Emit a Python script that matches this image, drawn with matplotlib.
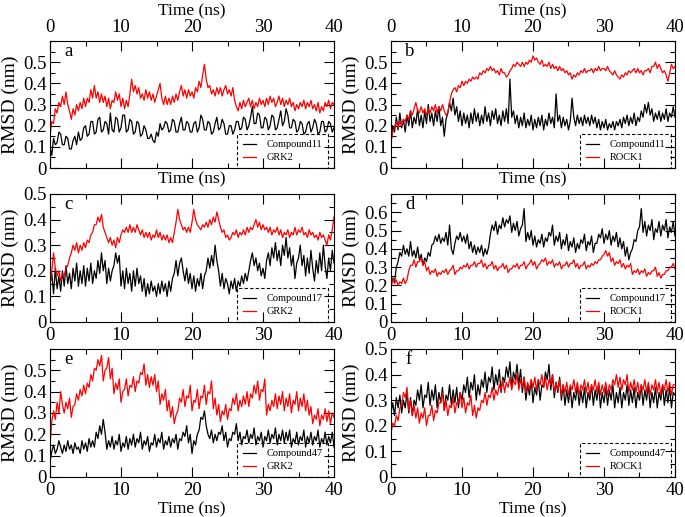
import numpy as np
import matplotlib
matplotlib.use('Agg')
import matplotlib.pyplot as plt
from matplotlib.ticker import MultipleLocator, FuncFormatter

plt.rcParams['font.family'] = ['Liberation Serif', 'DejaVu Serif']

# RMSD (nm), every 0.25 ns from 0 to 40 ns
a_compound11 = [0.10, 0.06, 0.14, 0.11, 0.12, 0.17, 0.16, 0.11, 0.11, 0.15, 0.14, 0.09, 0.09, 0.13, 0.15, 0.11,
                0.17, 0.13, 0.14, 0.19, 0.20, 0.15, 0.16, 0.22, 0.22, 0.16, 0.17, 0.23, 0.24, 0.17, 0.18, 0.22,
                0.21, 0.16, 0.26, 0.18, 0.17, 0.24, 0.23, 0.17, 0.19, 0.25, 0.25, 0.17, 0.18, 0.23, 0.22, 0.16,
                0.17, 0.22, 0.21, 0.15, 0.16, 0.20, 0.18, 0.14, 0.14, 0.16, 0.13, 0.12, 0.17, 0.15, 0.21, 0.18,
                0.19, 0.22, 0.21, 0.17, 0.18, 0.23, 0.22, 0.17, 0.17, 0.21, 0.24, 0.18, 0.18, 0.22, 0.21, 0.17,
                0.17, 0.21, 0.22, 0.17, 0.19, 0.25, 0.23, 0.18, 0.18, 0.22, 0.21, 0.16, 0.17, 0.21, 0.24, 0.18,
                0.19, 0.23, 0.21, 0.16, 0.16, 0.20, 0.20, 0.16, 0.18, 0.22, 0.22, 0.18, 0.19, 0.24, 0.23, 0.18,
                0.20, 0.24, 0.29, 0.21, 0.21, 0.26, 0.25, 0.19, 0.19, 0.24, 0.23, 0.18, 0.20, 0.25, 0.24, 0.18,
                0.19, 0.23, 0.27, 0.20, 0.22, 0.28, 0.25, 0.19, 0.19, 0.23, 0.22, 0.17, 0.18, 0.22, 0.21, 0.16,
                0.17, 0.21, 0.22, 0.17, 0.19, 0.23, 0.21, 0.16, 0.17, 0.22, 0.22, 0.17, 0.18, 0.22, 0.21, 0.17,
                0.19]
a_grk2 = [0.15, 0.22, 0.21, 0.28, 0.26, 0.31, 0.29, 0.34, 0.30, 0.36, 0.30, 0.27, 0.23, 0.28, 0.25, 0.30,
          0.27, 0.31, 0.28, 0.33, 0.29, 0.33, 0.31, 0.37, 0.33, 0.39, 0.33, 0.36, 0.31, 0.35, 0.31, 0.34,
          0.29, 0.33, 0.28, 0.32, 0.31, 0.36, 0.32, 0.35, 0.29, 0.33, 0.28, 0.32, 0.29, 0.35, 0.42, 0.36,
          0.39, 0.35, 0.38, 0.33, 0.35, 0.32, 0.37, 0.33, 0.36, 0.32, 0.35, 0.31, 0.34, 0.37, 0.40, 0.33,
          0.30, 0.34, 0.30, 0.33, 0.30, 0.34, 0.31, 0.35, 0.32, 0.36, 0.39, 0.34, 0.37, 0.33, 0.37, 0.34,
          0.36, 0.33, 0.38, 0.36, 0.41, 0.38, 0.44, 0.49, 0.42, 0.38, 0.39, 0.35, 0.37, 0.34, 0.38, 0.35,
          0.38, 0.34, 0.37, 0.39, 0.35, 0.37, 0.34, 0.38, 0.32, 0.29, 0.27, 0.31, 0.28, 0.32, 0.29, 0.31,
          0.33, 0.29, 0.32, 0.28, 0.31, 0.29, 0.33, 0.30, 0.32, 0.29, 0.33, 0.30, 0.34, 0.31, 0.33, 0.29,
          0.31, 0.34, 0.30, 0.33, 0.29, 0.32, 0.30, 0.33, 0.29, 0.31, 0.27, 0.30, 0.28, 0.31, 0.29, 0.32,
          0.28, 0.31, 0.29, 0.32, 0.28, 0.30, 0.27, 0.31, 0.26, 0.29, 0.27, 0.31, 0.29, 0.32, 0.28, 0.31,
          0.30]

b_compound11 = [0.12, 0.20, 0.17, 0.24, 0.18, 0.26, 0.19, 0.23, 0.17, 0.25, 0.20, 0.27, 0.19, 0.24, 0.21, 0.28,
                0.20, 0.25, 0.19, 0.27, 0.21, 0.30, 0.22, 0.26, 0.20, 0.27, 0.22, 0.29, 0.20, 0.24, 0.15, 0.23,
                0.26, 0.31, 0.27, 0.33, 0.25, 0.29, 0.22, 0.27, 0.20, 0.26, 0.21, 0.25, 0.19, 0.26, 0.21, 0.28,
                0.22, 0.26, 0.20, 0.25, 0.21, 0.29, 0.22, 0.26, 0.20, 0.27, 0.23, 0.28, 0.21, 0.25, 0.20, 0.27,
                0.22, 0.28, 0.21, 0.42, 0.24, 0.27, 0.21, 0.25, 0.19, 0.24, 0.20, 0.26, 0.19, 0.23, 0.20, 0.25,
                0.18, 0.23, 0.19, 0.24, 0.20, 0.25, 0.18, 0.23, 0.20, 0.26, 0.21, 0.24, 0.19, 0.35, 0.22, 0.25,
                0.19, 0.24, 0.20, 0.23, 0.18, 0.22, 0.33, 0.24, 0.20, 0.25, 0.21, 0.24, 0.20, 0.25, 0.21, 0.24,
                0.20, 0.25, 0.21, 0.24, 0.19, 0.23, 0.18, 0.22, 0.19, 0.23, 0.18, 0.21, 0.19, 0.22, 0.18, 0.22,
                0.20, 0.23, 0.19, 0.24, 0.21, 0.25, 0.20, 0.24, 0.21, 0.26, 0.20, 0.24, 0.22, 0.27, 0.24, 0.30,
                0.26, 0.31, 0.25, 0.28, 0.22, 0.26, 0.23, 0.27, 0.22, 0.26, 0.23, 0.28, 0.22, 0.26, 0.24, 0.29,
                0.24]
b_rock1 = [0.12, 0.17, 0.19, 0.22, 0.19, 0.22, 0.20, 0.23, 0.22, 0.25, 0.23, 0.27, 0.25, 0.28, 0.31, 0.27,
           0.26, 0.29, 0.26, 0.28, 0.25, 0.28, 0.26, 0.29, 0.27, 0.30, 0.26, 0.29, 0.27, 0.30, 0.27, 0.25,
           0.26, 0.31, 0.35, 0.37, 0.38, 0.36, 0.39, 0.38, 0.41, 0.39, 0.41, 0.40, 0.42, 0.41, 0.43, 0.42,
           0.43, 0.42, 0.45, 0.44, 0.46, 0.45, 0.47, 0.46, 0.48, 0.46, 0.47, 0.45, 0.46, 0.44, 0.47, 0.45,
           0.45, 0.43, 0.44, 0.46, 0.47, 0.49, 0.48, 0.50, 0.49, 0.48, 0.50, 0.48, 0.50, 0.49, 0.51, 0.50,
           0.53, 0.51, 0.52, 0.50, 0.49, 0.51, 0.48, 0.49, 0.48, 0.50, 0.47, 0.49, 0.47, 0.48, 0.46, 0.48,
           0.46, 0.47, 0.45, 0.46, 0.44, 0.45, 0.42, 0.44, 0.43, 0.45, 0.44, 0.46, 0.45, 0.47, 0.45, 0.46,
           0.46, 0.47, 0.45, 0.47, 0.46, 0.48, 0.46, 0.47, 0.47, 0.46, 0.48, 0.46, 0.45, 0.44, 0.46, 0.44,
           0.43, 0.42, 0.44, 0.43, 0.45, 0.44, 0.46, 0.45, 0.46, 0.47, 0.45, 0.47, 0.45, 0.46, 0.44, 0.46,
           0.46, 0.47, 0.45, 0.48, 0.48, 0.50, 0.47, 0.49, 0.47, 0.45, 0.46, 0.44, 0.41, 0.45, 0.49, 0.47,
           0.48]

c_compound17 = [0.15, 0.19, 0.11, 0.21, 0.13, 0.18, 0.12, 0.20, 0.14, 0.22, 0.15, 0.19, 0.13, 0.21, 0.16, 0.23,
                0.14, 0.20, 0.15, 0.22, 0.14, 0.21, 0.16, 0.23, 0.15, 0.20, 0.17, 0.24, 0.19, 0.27, 0.20, 0.24,
                0.15, 0.21, 0.16, 0.20, 0.22, 0.27, 0.23, 0.26, 0.14, 0.20, 0.13, 0.21, 0.15, 0.19, 0.12, 0.20,
                0.14, 0.21, 0.15, 0.18, 0.12, 0.17, 0.10, 0.15, 0.11, 0.16, 0.12, 0.14, 0.10, 0.15, 0.11, 0.16,
                0.12, 0.15, 0.10, 0.16, 0.12, 0.17, 0.19, 0.24, 0.18, 0.23, 0.25, 0.20, 0.16, 0.21, 0.15, 0.19,
                0.13, 0.18, 0.12, 0.17, 0.14, 0.19, 0.13, 0.18, 0.20, 0.25, 0.21, 0.26, 0.22, 0.30, 0.24, 0.20,
                0.14, 0.19, 0.13, 0.17, 0.15, 0.11, 0.16, 0.13, 0.17, 0.12, 0.16, 0.14, 0.18, 0.15, 0.19, 0.16,
                0.20, 0.24, 0.27, 0.22, 0.25, 0.20, 0.23, 0.18, 0.21, 0.17, 0.24, 0.27, 0.22, 0.29, 0.25, 0.31,
                0.24, 0.28, 0.22, 0.30, 0.26, 0.33, 0.25, 0.29, 0.22, 0.26, 0.17, 0.23, 0.25, 0.30, 0.22, 0.26,
                0.18, 0.25, 0.19, 0.28, 0.21, 0.16, 0.24, 0.19, 0.27, 0.20, 0.30, 0.22, 0.17, 0.25, 0.20, 0.28,
                0.23]
c_grk2 = [0.14, 0.20, 0.27, 0.21, 0.18, 0.20, 0.16, 0.19, 0.18, 0.21, 0.22, 0.25, 0.27, 0.30, 0.28, 0.31,
          0.27, 0.30, 0.28, 0.31, 0.29, 0.32, 0.31, 0.34, 0.35, 0.38, 0.38, 0.41, 0.39, 0.42, 0.37, 0.35,
          0.33, 0.31, 0.33, 0.30, 0.32, 0.29, 0.33, 0.31, 0.34, 0.36, 0.35, 0.37, 0.35, 0.38, 0.35, 0.37,
          0.35, 0.38, 0.36, 0.34, 0.36, 0.33, 0.35, 0.33, 0.35, 0.32, 0.34, 0.33, 0.36, 0.33, 0.35, 0.32,
          0.34, 0.32, 0.34, 0.31, 0.33, 0.31, 0.35, 0.39, 0.44, 0.40, 0.38, 0.36, 0.37, 0.35, 0.37, 0.35,
          0.39, 0.44, 0.40, 0.38, 0.37, 0.36, 0.38, 0.37, 0.39, 0.37, 0.40, 0.38, 0.41, 0.39, 0.43, 0.40,
          0.37, 0.35, 0.36, 0.33, 0.34, 0.32, 0.33, 0.35, 0.34, 0.36, 0.33, 0.35, 0.34, 0.36, 0.34, 0.37,
          0.35, 0.37, 0.36, 0.38, 0.40, 0.37, 0.39, 0.36, 0.38, 0.36, 0.37, 0.35, 0.37, 0.34, 0.36, 0.35,
          0.37, 0.34, 0.36, 0.33, 0.35, 0.34, 0.36, 0.33, 0.35, 0.34, 0.37, 0.34, 0.36, 0.35, 0.37, 0.34,
          0.35, 0.33, 0.36, 0.34, 0.35, 0.33, 0.34, 0.32, 0.35, 0.33, 0.34, 0.32, 0.30, 0.34, 0.32, 0.36,
          0.41]

d_compound17 = [0.20, 0.24, 0.22, 0.30, 0.33, 0.38, 0.36, 0.42, 0.37, 0.40, 0.36, 0.44, 0.36, 0.39, 0.35, 0.41,
                0.34, 0.37, 0.31, 0.35, 0.33, 0.38, 0.36, 0.42, 0.43, 0.47, 0.44, 0.48, 0.43, 0.46, 0.44, 0.49,
                0.42, 0.53, 0.40, 0.37, 0.43, 0.47, 0.45, 0.49, 0.44, 0.47, 0.43, 0.48, 0.40, 0.44, 0.38, 0.42,
                0.37, 0.41, 0.38, 0.42, 0.36, 0.40, 0.37, 0.41, 0.48, 0.53, 0.50, 0.55, 0.48, 0.53, 0.51, 0.57,
                0.52, 0.56, 0.54, 0.58, 0.49, 0.54, 0.50, 0.55, 0.47, 0.51, 0.53, 0.62, 0.44, 0.49, 0.45, 0.50,
                0.42, 0.47, 0.41, 0.45, 0.43, 0.48, 0.41, 0.46, 0.44, 0.49, 0.47, 0.53, 0.42, 0.47, 0.44, 0.49,
                0.40, 0.45, 0.42, 0.48, 0.39, 0.44, 0.41, 0.46, 0.38, 0.43, 0.40, 0.45, 0.43, 0.48, 0.39, 0.44,
                0.42, 0.47, 0.38, 0.43, 0.43, 0.48, 0.46, 0.51, 0.43, 0.48, 0.45, 0.50, 0.42, 0.47, 0.44, 0.49,
                0.41, 0.46, 0.40, 0.44, 0.36, 0.41, 0.34, 0.38, 0.40, 0.45, 0.44, 0.50, 0.52, 0.62, 0.49, 0.55,
                0.47, 0.53, 0.50, 0.56, 0.45, 0.51, 0.49, 0.55, 0.47, 0.53, 0.50, 0.56, 0.46, 0.52, 0.49, 0.55,
                0.47]
d_rock1 = [0.18, 0.24, 0.21, 0.23, 0.20, 0.22, 0.21, 0.24, 0.21, 0.23, 0.28, 0.31, 0.31, 0.34, 0.30, 0.33,
           0.33, 0.35, 0.31, 0.33, 0.28, 0.30, 0.26, 0.28, 0.27, 0.29, 0.25, 0.27, 0.26, 0.28, 0.27, 0.29,
           0.26, 0.28, 0.29, 0.31, 0.26, 0.28, 0.28, 0.30, 0.29, 0.31, 0.30, 0.32, 0.29, 0.31, 0.31, 0.33,
           0.30, 0.32, 0.32, 0.34, 0.30, 0.32, 0.29, 0.31, 0.31, 0.33, 0.29, 0.31, 0.28, 0.30, 0.30, 0.32,
           0.29, 0.31, 0.27, 0.29, 0.29, 0.31, 0.30, 0.32, 0.29, 0.31, 0.31, 0.33, 0.29, 0.31, 0.32, 0.34,
           0.31, 0.33, 0.29, 0.31, 0.32, 0.34, 0.33, 0.35, 0.31, 0.33, 0.32, 0.34, 0.30, 0.32, 0.31, 0.33,
           0.29, 0.31, 0.31, 0.33, 0.30, 0.32, 0.32, 0.34, 0.30, 0.32, 0.29, 0.31, 0.31, 0.33, 0.29, 0.31,
           0.30, 0.32, 0.31, 0.33, 0.32, 0.34, 0.34, 0.36, 0.37, 0.39, 0.36, 0.38, 0.33, 0.35, 0.31, 0.33,
           0.32, 0.34, 0.30, 0.32, 0.29, 0.31, 0.30, 0.32, 0.26, 0.28, 0.27, 0.29, 0.26, 0.28, 0.27, 0.29,
           0.25, 0.27, 0.26, 0.28, 0.28, 0.30, 0.25, 0.27, 0.24, 0.26, 0.26, 0.28, 0.28, 0.30, 0.30, 0.32,
           0.29]

e_compound47 = [0.07, 0.12, 0.15, 0.11, 0.13, 0.17, 0.14, 0.11, 0.15, 0.12, 0.17, 0.13, 0.15, 0.11, 0.16, 0.13,
                0.14, 0.11, 0.17, 0.13, 0.16, 0.12, 0.18, 0.14, 0.17, 0.14, 0.21, 0.18, 0.24, 0.20, 0.27, 0.21,
                0.13, 0.17, 0.14, 0.19, 0.13, 0.17, 0.15, 0.20, 0.12, 0.16, 0.14, 0.19, 0.13, 0.18, 0.15, 0.20,
                0.14, 0.18, 0.16, 0.21, 0.13, 0.17, 0.15, 0.19, 0.12, 0.16, 0.15, 0.20, 0.14, 0.18, 0.16, 0.21,
                0.13, 0.17, 0.15, 0.19, 0.14, 0.18, 0.16, 0.20, 0.13, 0.18, 0.17, 0.21, 0.19, 0.24, 0.16, 0.20,
                0.11, 0.17, 0.15, 0.20, 0.22, 0.28, 0.27, 0.31, 0.24, 0.20, 0.18, 0.22, 0.16, 0.20, 0.17, 0.21,
                0.20, 0.24, 0.17, 0.21, 0.14, 0.18, 0.17, 0.21, 0.20, 0.25, 0.17, 0.21, 0.15, 0.19, 0.18, 0.22,
                0.16, 0.20, 0.18, 0.23, 0.15, 0.19, 0.17, 0.21, 0.14, 0.19, 0.17, 0.22, 0.16, 0.20, 0.18, 0.23,
                0.15, 0.20, 0.17, 0.22, 0.16, 0.21, 0.17, 0.22, 0.14, 0.18, 0.16, 0.21, 0.15, 0.19, 0.17, 0.22,
                0.14, 0.19, 0.16, 0.21, 0.15, 0.19, 0.17, 0.22, 0.14, 0.18, 0.16, 0.21, 0.15, 0.19, 0.16, 0.21,
                0.14]
e_grk2 = [0.15, 0.26, 0.31, 0.27, 0.35, 0.30, 0.40, 0.34, 0.30, 0.35, 0.32, 0.37, 0.28, 0.33, 0.34, 0.39,
          0.36, 0.41, 0.38, 0.43, 0.39, 0.44, 0.42, 0.48, 0.45, 0.51, 0.50, 0.55, 0.52, 0.57, 0.45, 0.50,
          0.51, 0.56, 0.46, 0.51, 0.39, 0.44, 0.41, 0.46, 0.35, 0.40, 0.41, 0.46, 0.38, 0.43, 0.42, 0.47,
          0.40, 0.45, 0.44, 0.49, 0.48, 0.53, 0.43, 0.48, 0.42, 0.47, 0.43, 0.48, 0.40, 0.45, 0.34, 0.39,
          0.36, 0.41, 0.31, 0.36, 0.28, 0.33, 0.25, 0.29, 0.31, 0.37, 0.35, 0.41, 0.33, 0.38, 0.37, 0.43,
          0.31, 0.36, 0.35, 0.41, 0.32, 0.38, 0.37, 0.43, 0.34, 0.40, 0.39, 0.45, 0.32, 0.37, 0.29, 0.34,
          0.26, 0.31, 0.29, 0.34, 0.27, 0.32, 0.31, 0.37, 0.34, 0.39, 0.31, 0.36, 0.33, 0.38, 0.34, 0.40,
          0.33, 0.39, 0.37, 0.43, 0.39, 0.45, 0.36, 0.41, 0.40, 0.46, 0.29, 0.34, 0.31, 0.36, 0.33, 0.39,
          0.32, 0.38, 0.34, 0.40, 0.31, 0.37, 0.33, 0.39, 0.30, 0.36, 0.34, 0.40, 0.31, 0.37, 0.33, 0.39,
          0.31, 0.36, 0.29, 0.33, 0.25, 0.29, 0.27, 0.32, 0.24, 0.29, 0.27, 0.32, 0.26, 0.31, 0.25, 0.30,
          0.28]

f_compound47 = [0.25, 0.29, 0.24, 0.31, 0.27, 0.32, 0.25, 0.30, 0.27, 0.33, 0.25, 0.31, 0.24, 0.30, 0.28, 0.34,
                0.30, 0.36, 0.27, 0.32, 0.31, 0.37, 0.28, 0.34, 0.30, 0.36, 0.27, 0.33, 0.29, 0.35, 0.26, 0.32,
                0.30, 0.36, 0.28, 0.34, 0.29, 0.35, 0.27, 0.33, 0.30, 0.36, 0.33, 0.39, 0.31, 0.37, 0.34, 0.40,
                0.30, 0.36, 0.32, 0.38, 0.35, 0.41, 0.33, 0.39, 0.37, 0.43, 0.34, 0.40, 0.36, 0.42, 0.33, 0.39,
                0.37, 0.43, 0.39, 0.45, 0.35, 0.41, 0.38, 0.44, 0.36, 0.42, 0.33, 0.39, 0.30, 0.36, 0.32, 0.38,
                0.29, 0.35, 0.32, 0.38, 0.30, 0.36, 0.35, 0.41, 0.38, 0.44, 0.34, 0.40, 0.31, 0.37, 0.33, 0.39,
                0.30, 0.36, 0.28, 0.34, 0.29, 0.35, 0.27, 0.33, 0.30, 0.36, 0.28, 0.34, 0.29, 0.35, 0.27, 0.33,
                0.30, 0.36, 0.28, 0.34, 0.30, 0.36, 0.27, 0.33, 0.29, 0.35, 0.28, 0.34, 0.30, 0.36, 0.27, 0.33,
                0.29, 0.35, 0.27, 0.33, 0.30, 0.36, 0.28, 0.34, 0.29, 0.35, 0.27, 0.33, 0.30, 0.36, 0.28, 0.34,
                0.30, 0.36, 0.27, 0.33, 0.29, 0.35, 0.27, 0.33, 0.30, 0.36, 0.28, 0.34, 0.29, 0.35, 0.27, 0.33,
                0.32]
f_rock1 = [0.17, 0.21, 0.20, 0.24, 0.22, 0.27, 0.28, 0.33, 0.31, 0.35, 0.26, 0.30, 0.24, 0.28, 0.23, 0.27,
           0.21, 0.25, 0.23, 0.27, 0.20, 0.24, 0.24, 0.28, 0.22, 0.26, 0.25, 0.29, 0.29, 0.33, 0.26, 0.30,
           0.24, 0.28, 0.27, 0.31, 0.25, 0.29, 0.29, 0.33, 0.27, 0.31, 0.25, 0.29, 0.28, 0.32, 0.24, 0.28,
           0.23, 0.27, 0.26, 0.30, 0.29, 0.33, 0.28, 0.32, 0.31, 0.35, 0.30, 0.34, 0.32, 0.36, 0.34, 0.38,
           0.33, 0.37, 0.35, 0.39, 0.34, 0.38, 0.36, 0.40, 0.34, 0.38, 0.35, 0.39, 0.33, 0.37, 0.34, 0.38,
           0.35, 0.39, 0.34, 0.38, 0.36, 0.40, 0.35, 0.39, 0.34, 0.38, 0.36, 0.40, 0.33, 0.37, 0.34, 0.38,
           0.32, 0.36, 0.33, 0.37, 0.32, 0.36, 0.34, 0.38, 0.33, 0.37, 0.32, 0.36, 0.34, 0.38, 0.33, 0.37,
           0.32, 0.36, 0.34, 0.38, 0.33, 0.37, 0.32, 0.36, 0.33, 0.37, 0.32, 0.36, 0.34, 0.38, 0.36, 0.40,
           0.35, 0.39, 0.34, 0.38, 0.36, 0.40, 0.33, 0.37, 0.34, 0.38, 0.33, 0.37, 0.32, 0.36, 0.34, 0.38,
           0.33, 0.37, 0.32, 0.36, 0.34, 0.38, 0.33, 0.37, 0.32, 0.36, 0.34, 0.38, 0.33, 0.37, 0.32, 0.36,
           0.36]

# letter, ligand series, protein series, ligand name, protein name, ymax, last y tick label
panels = [
    ('a', a_compound11, a_grk2, 'Compound11', 'GRK2', 0.6, 0.5),
    ('b', b_compound11, b_rock1, 'Compound11', 'ROCK1', 0.6, 0.5),
    ('c', c_compound17, c_grk2, 'Compound17', 'GRK2', 0.5, 0.5),
    ('d', d_compound17, d_rock1, 'Compound17', 'ROCK1', 0.7, 0.6),
    ('e', e_compound47, e_grk2, 'Compound47', 'GRK2', 0.6, 0.5),
    ('f', f_compound47, f_rock1, 'Compound47', 'ROCK1', 0.5, 0.5),
]

fig = plt.figure(figsize=(6.85, 5.17), dpi=100)

lefts = [0.073, 0.5708]
bottoms = [0.675, 0.3772, 0.0774]
heights = [0.2456, 0.2476, 0.2476]
width = 0.4146

yfmt = FuncFormatter(lambda v, p: '0' if abs(v) < 1e-9 else f'{v:.1f}')

for i, (letter, lig, prot, lig_name, prot_name, ymax, ylast) in enumerate(panels):
    row, col = i // 2, i % 2
    ax = fig.add_axes([lefts[col], bottoms[row], width, heights[row]])

    t_lig = np.linspace(0, 40, len(lig))
    t_prot = np.linspace(0, 40, len(prot))
    ax.plot(t_lig, lig, color='black', lw=0.9, label=lig_name)
    ax.plot(t_prot, prot, color='red', lw=0.9, label=prot_name)

    ax.set_xlim(0, 40)
    ax.set_ylim(0, ymax)
    ax.xaxis.set_major_locator(MultipleLocator(10))
    ax.xaxis.set_minor_locator(MultipleLocator(5))
    ax.set_yticks(np.arange(0, ylast + 0.001, 0.1))
    ax.yaxis.set_minor_locator(MultipleLocator(0.05))
    ax.yaxis.set_major_formatter(yfmt)

    ax.tick_params(which='both', direction='in', top=True, right=True,
                   width=0.8, labelsize=13.5)
    ax.tick_params(which='major', length=7)
    ax.tick_params(which='minor', length=3.5)
    ax.tick_params(axis='y', pad=2.5)
    for s in ax.spines.values():
        s.set_linewidth(0.8)

    ax.set_ylabel('RMSD (nm)', fontsize=14, labelpad=3)

    if row == 0:
        ax.tick_params(axis='x', labeltop=True, labelbottom=False)
        ax.xaxis.set_label_position('top')
        ax.set_xlabel('Time (ns)', fontsize=12.5, labelpad=3)
        ax.text(0.5, -0.03, 'Time (ns)', transform=ax.transAxes,
                ha='center', va='top', fontsize=12.5)
    elif row == 2:
        ax.set_xlabel('Time (ns)', fontsize=12.5, labelpad=2)

    ax.text(0.05, 0.92, letter, transform=ax.transAxes, ha='left',
            va='center', fontsize=13.5)

    leg_x = 0.658 if col == 0 else 0.665
    leg = ax.legend(loc='lower left', bbox_to_anchor=(leg_x, 0.0),
                    borderaxespad=0, fontsize=7.5, handlelength=1.3,
                    handletextpad=1.0, labelspacing=0.35, borderpad=0.55,
                    fancybox=False, framealpha=1)
    frame = leg.get_frame()
    frame.set_facecolor('none')
    frame.set_edgecolor('black')
    frame.set_linewidth(0.8)
    frame.set_linestyle((0, (3, 2)))

fig.savefig('out.png', dpi=100)
